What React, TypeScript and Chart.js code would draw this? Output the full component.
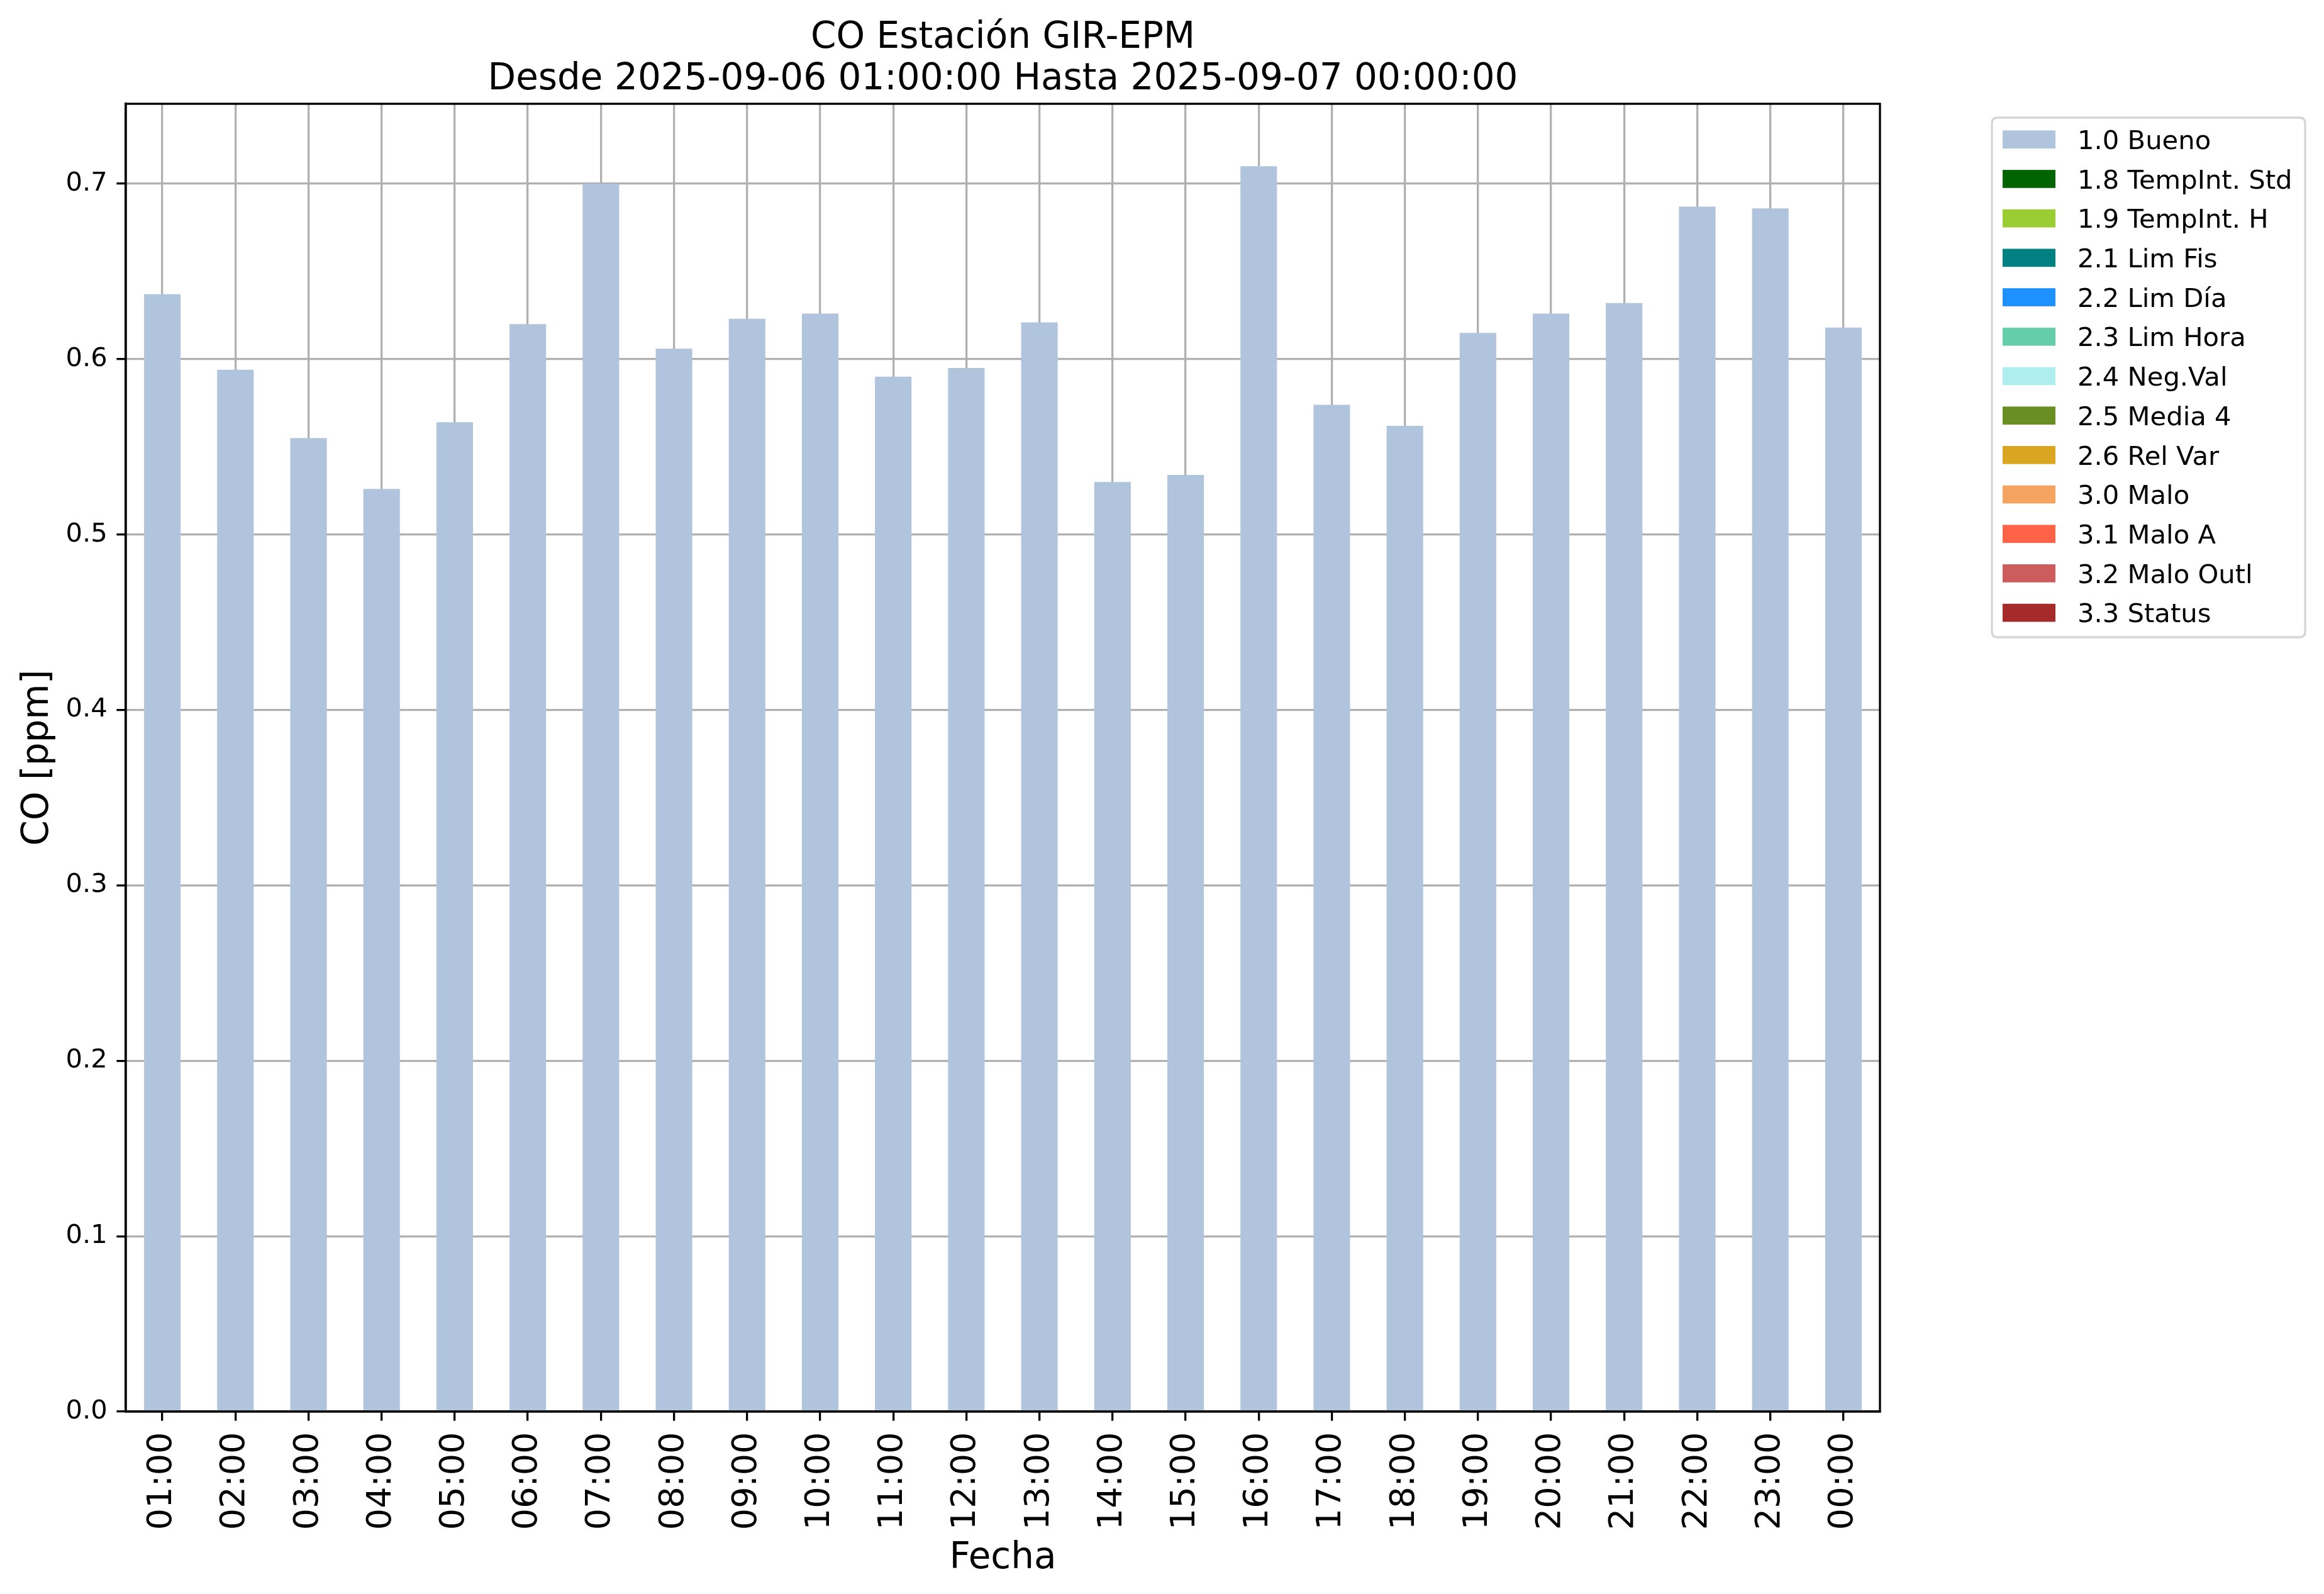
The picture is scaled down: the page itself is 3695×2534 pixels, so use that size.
import React, { useEffect, useRef } from "react";
import { Chart, registerables } from "chart.js";

Chart.register(...registerables);

// ---------------- data ----------------
const HOURS = [
  "01:00", "02:00", "03:00", "04:00", "05:00", "06:00", "07:00", "08:00",
  "09:00", "10:00", "11:00", "12:00", "13:00", "14:00", "15:00", "16:00",
  "17:00", "18:00", "19:00", "20:00", "21:00", "22:00", "23:00", "00:00",
];

const BUENO = [
  0.637, 0.594, 0.555, 0.526, 0.564, 0.620, 0.700, 0.606,
  0.623, 0.626, 0.590, 0.595, 0.621, 0.530, 0.534, 0.710,
  0.574, 0.562, 0.615, 0.626, 0.632, 0.687, 0.686, 0.618,
];

const FLAG_LABELS = [
  "1.0 Bueno", "1.8 TempInt. Std", "1.9 TempInt. H", "2.1 Lim Fis",
  "2.2 Lim Día", "2.3 Lim Hora", "2.4 Neg.Val", "2.5 Media 4",
  "2.6 Rel Var", "3.0 Malo", "3.1 Malo A", "3.2 Malo Outl", "3.3 Status",
];

const FLAG_COLORS = [
  "#B0C4DE", "#006400", "#9ACD32", "#008080", "#1E90FF", "#66CDAA",
  "#AFEEEE", "#6B8E23", "#DAA520", "#F4A460", "#FF6347", "#CD5C5C", "#A52A2A",
];

// only "1.0 Bueno" has values in this period; the other flags are empty
const SERIES: number[][] = [BUENO, [], [], [], [], [], [], [], [], [], [], [], []];

const TITLE = ["CO Estación GIR-EPM", "Desde 2025-09-06 01:00:00 Hasta 2025-09-07 00:00:00"];
const X_LABEL = "Fecha";
const Y_LABEL = "CO [ppm]";
const Y_MIN = 0;
const Y_MAX = 0.7456;
const Y_STEP = 0.1;

// ---------------- style ----------------
const FONT = "DejaVu Sans";
const LW = 3.3;
const GRID = "#b0b0b0";

const decorPlugin = {
  id: "decor",
  afterDraw(chart: any) {
    const { ctx, chartArea: a } = chart;
    ctx.save();
    // frame (all four spines)
    ctx.strokeStyle = "#000";
    ctx.lineWidth = LW;
    ctx.strokeRect(a.left, a.top, a.right - a.left, a.bottom - a.top);

    // title
    ctx.fillStyle = "#000";
    ctx.textAlign = "center";
    ctx.textBaseline = "alphabetic";
    ctx.font = `58px "${FONT}"`;
    const cx = (a.left + a.right) / 2;
    ctx.fillText(TITLE[0], cx, 76);
    ctx.fillText(TITLE[1], cx, 142);

    // axis labels
    ctx.fillText(X_LABEL, cx, 2493);
    ctx.save();
    ctx.translate(76, (a.top + a.bottom) / 2);
    ctx.rotate(-Math.PI / 2);
    ctx.fillText(Y_LABEL, 0, 0);
    ctx.restore();

    // legend
    const lx = 3167, ly = 187, lw = 498, lh = 826, r = 9;
    ctx.beginPath();
    ctx.moveTo(lx + r, ly);
    ctx.lineTo(lx + lw - r, ly);
    ctx.quadraticCurveTo(lx + lw, ly, lx + lw, ly + r);
    ctx.lineTo(lx + lw, ly + lh - r);
    ctx.quadraticCurveTo(lx + lw, ly + lh, lx + lw - r, ly + lh);
    ctx.lineTo(lx + r, ly + lh);
    ctx.quadraticCurveTo(lx, ly + lh, lx, ly + lh - r);
    ctx.lineTo(lx, ly + r);
    ctx.quadraticCurveTo(lx, ly, lx + r, ly);
    ctx.closePath();
    ctx.fillStyle = "rgba(255,255,255,0.8)";
    ctx.fill();
    ctx.strokeStyle = "#d6d6d6";
    ctx.lineWidth = LW;
    ctx.stroke();

    ctx.font = `41.7px "${FONT}"`;
    ctx.textAlign = "left";
    ctx.textBaseline = "alphabetic";
    chart.data.datasets.forEach((ds: any, i: number) => {
      const cy = 221.7 + i * 62.7;
      ctx.fillStyle = ds.backgroundColor;
      ctx.fillRect(3184, cy - 14.3, 84, 28.7);
      ctx.fillStyle = "#000";
      ctx.fillText(ds.label, 3303, cy + 15.2);
    });
    ctx.restore();
  },
};

export default function App() {
  const ref = useRef<HTMLCanvasElement>(null);

  useEffect(() => {
    if (!ref.current) return;
    Chart.defaults.font.family = FONT;
    const chart = new Chart(ref.current, {
      type: "bar",
      data: {
        labels: HOURS,
        datasets: FLAG_LABELS.map((label, i) => ({
          label,
          data: SERIES[i],
          backgroundColor: FLAG_COLORS[i],
          borderWidth: 0,
          barPercentage: 0.5,
          categoryPercentage: 1.0,
        })),
      },
      options: {
        responsive: false,
        animation: false,
        devicePixelRatio: 1,
        layout: { padding: { left: 0, top: 165, right: 706, bottom: 0 } },
        plugins: {
          legend: { display: false },
          title: { display: false },
          tooltip: { enabled: false },
        },
        scales: {
          x: {
            stacked: true,
            offset: true,
            z: 1,
            grid: {
              offset: false,
              color: GRID,
              lineWidth: LW,
              drawTicks: true,
              tickLength: 14.6,
              tickColor: "#000",
              tickWidth: LW,
            },
            border: { color: "#000", width: LW },
            ticks: {
              autoSkip: false,
              minRotation: 90,
              maxRotation: 90,
              padding: 18,
              color: "#000",
              font: { family: FONT, size: 54 },
            },
            afterFit: (s: any) => {
              s.height = 290;
            },
          },
          y: {
            stacked: true,
            min: Y_MIN,
            max: Y_MAX,
            z: 1,
            grid: {
              color: GRID,
              lineWidth: LW,
              drawTicks: true,
              tickLength: 14.6,
              tickColor: "#000",
              tickWidth: LW,
            },
            border: { color: "#000", width: LW },
            ticks: {
              stepSize: Y_STEP,
              includeBounds: false,
              padding: 14.6,
              color: "#000",
              font: { family: FONT, size: 41.7 },
              callback: (v: any) => Number(v).toFixed(1),
            },
            afterFit: (s: any) => {
              s.width = 200;
            },
          },
        },
      },
      plugins: [decorPlugin],
    });
    return () => chart.destroy();
  }, []);

  return (
    <div
      style={{
        position: "fixed",
        left: 0,
        top: 0,
        width: 3695,
        height: 2534,
        background: "#fff",
      }}
    >
      <canvas ref={ref} width={3695} height={2534} style={{ display: "block" }} />
    </div>
  );
}
